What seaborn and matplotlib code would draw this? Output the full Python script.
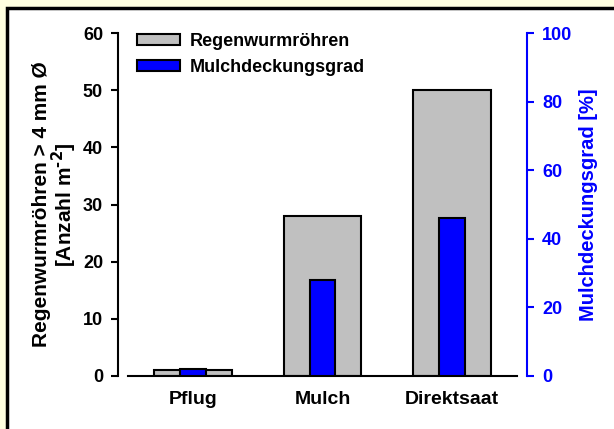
import matplotlib
matplotlib.use("Agg")
import matplotlib.pyplot as plt
from matplotlib.patches import Patch, Rectangle
import seaborn as sns

sns.set_theme(style="white")
plt.rcParams["font.family"] = ["Liberation Sans", "DejaVu Sans"]
plt.rcParams["font.weight"] = "bold"
plt.rcParams["text.color"] = "black"
plt.rcParams["axes.labelcolor"] = "black"
plt.rcParams["xtick.color"] = "black"
plt.rcParams["ytick.color"] = "black"
plt.rcParams["mathtext.default"] = "bf"

GRAY = "#C0C0C0"
BLUE = "#0000FF"
BG = "#FFFFE0"

# data
categories = ["Pflug", "Mulch", "Direktsaat"]
regenwurm = [1, 28, 50]          # Regenwurmröhren > 4 mm Ø [Anzahl m-2]
mulchdeckung = [2, 28, 46]       # Mulchdeckungsgrad [%]
left_ticks = [0, 10, 20, 30, 40, 50, 60]
right_ticks = [0, 20, 40, 60, 80, 100]

fig = plt.figure(figsize=(6.14, 4.29), dpi=100, facecolor=BG)
# white panel with black frame behind the chart
fig.patches.append(Rectangle((7 / 614, -0.1), 1.1, 1 - 8 / 429 + 0.1,
                             transform=fig.transFigure, facecolor="white",
                             edgecolor="black", linewidth=2.5, zorder=-5))

ax = fig.add_axes([128 / 614, 1 - 376 / 429, (517 - 128) / 614, (376 - 33) / 429])
ax.set_facecolor("none")

sns.barplot(x=categories, y=regenwurm, color=GRAY, width=0.6, saturation=1,
            edgecolor="black", linewidth=1.5, ax=ax)
ax.set_xlim(-0.5, 2.5)
ax.set_ylim(0, 60)
ax.set_yticks(left_ticks)
ax.set_xlabel("")
ax.set_ylabel("Regenwurmröhren > 4 mm Ø\n[Anzahl m$^{\\text{-2}}$]",
              fontsize=15, fontweight="bold", labelpad=3, linespacing=0.95)

ax2 = ax.twinx()
sns.barplot(x=categories, y=mulchdeckung, color=BLUE, width=0.2, saturation=1,
            edgecolor="black", linewidth=1.5, ax=ax2)
ax2.set_xlim(-0.5, 2.5)
ax2.set_ylim(0, 100)
ax2.set_yticks(right_ticks)
ax2.set_ylabel("Mulchdeckungsgrad [%]", color=BLUE, fontsize=14.5,
               fontweight="bold", labelpad=5)

for a in (ax, ax2):
    a.spines["top"].set_visible(False)
    a.tick_params(axis="x", length=0, labelsize=14, pad=11)
    for lab in a.get_xticklabels():
        lab.set_fontweight("bold")

ax.spines["right"].set_visible(False)
ax.spines["left"].set_position(("outward", 7))
ax.spines["left"].set_linewidth(1.5)
ax.spines["bottom"].set_linewidth(1.5)
ax.spines["left"].set_color("black")
ax.spines["bottom"].set_color("black")
ax.tick_params(axis="y", direction="out", length=5, width=1.5, labelsize=13,
               pad=6, left=True, colors="black")

ax2.spines["left"].set_visible(False)
ax2.spines["bottom"].set_visible(False)
ax2.spines["right"].set_position(("outward", 7))
ax2.spines["right"].set_linewidth(1.5)
ax2.spines["right"].set_color(BLUE)
ax2.tick_params(axis="y", direction="out", length=5, width=1.5, labelsize=13,
                pad=6, right=True, colors=BLUE)

for lab in ax.get_yticklabels() + ax2.get_yticklabels():
    lab.set_fontweight("bold")

handles = [Patch(facecolor=GRAY, edgecolor="black", linewidth=1.5),
           Patch(facecolor=BLUE, edgecolor="black", linewidth=1.5)]
ax2.legend(handles, ["Regenwurmröhren", "Mulchdeckungsgrad"], loc="upper left",
           bbox_to_anchor=(0.023, 1.0), frameon=False, borderpad=0,
           borderaxespad=0, handlelength=2.4, handleheight=0.6,
           handletextpad=0.55, labelspacing=0.5,
           prop={"weight": "bold", "size": 13})

fig.savefig("out.png", dpi=100, facecolor=BG)
